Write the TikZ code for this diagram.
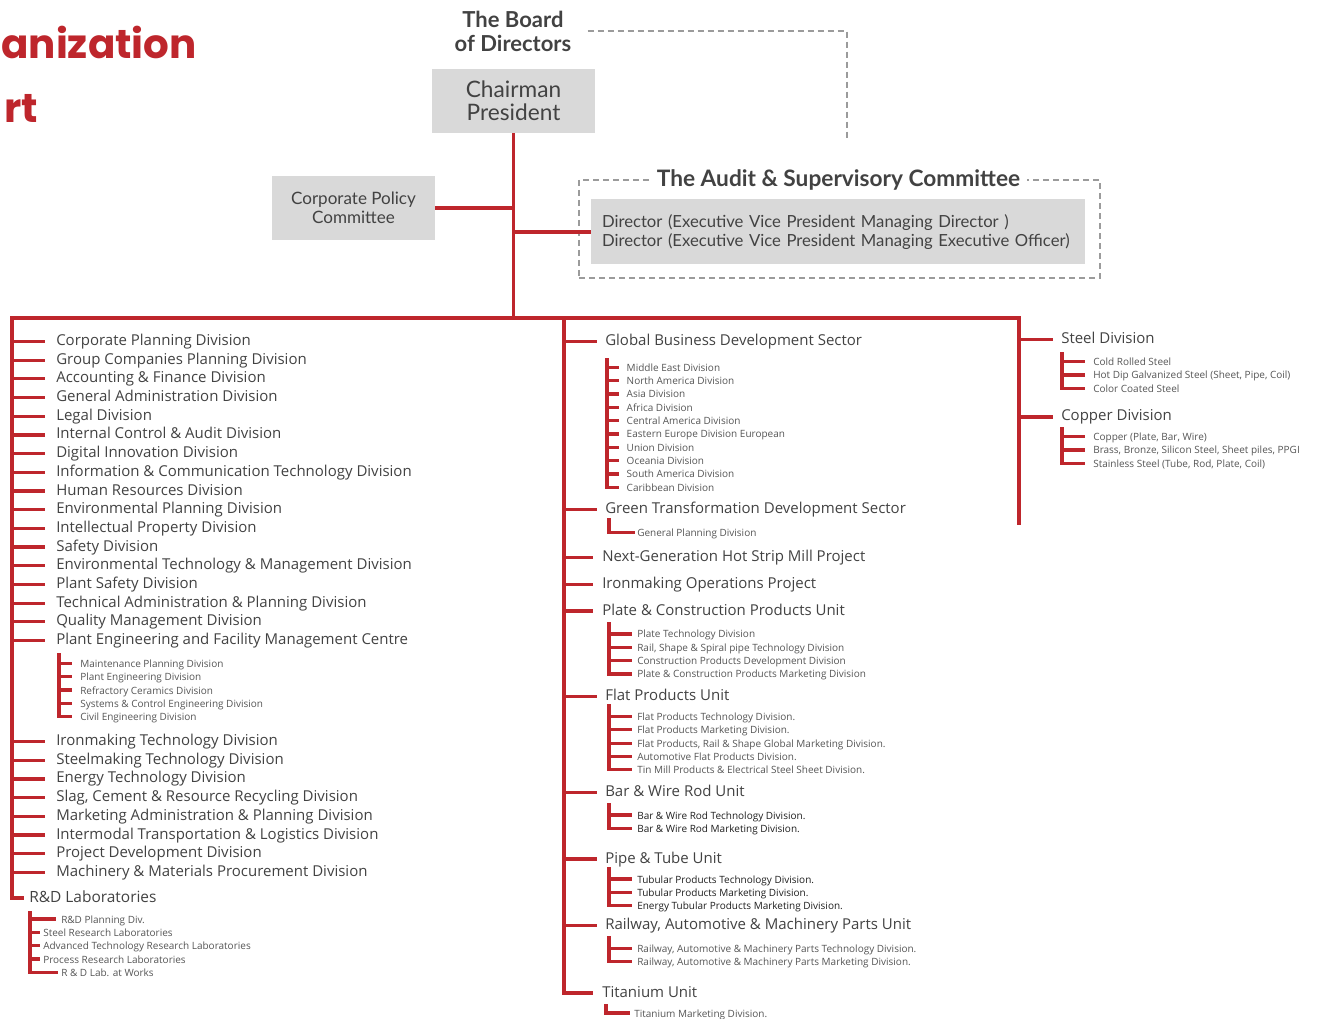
\documentclass[tikz,border=0pt]{standalone}
\usepackage{fontspec}
\setmainfont{Open Sans}
\newfontfamily\titlefont{Poppins}
\newfontfamily\headfont{Lato}
\definecolor{orgred}{RGB}{190,38,44}
\definecolor{boxgray}{RGB}{217,217,217}
\definecolor{txt}{RGB}{66,66,66}
\definecolor{txtl}{RGB}{85,85,85}
\definecolor{txtd}{RGB}{30,30,30}
\definecolor{dashgray}{RGB}{155,155,155}
\tikzset{
 rl/.style={draw=orgred,line width=2.4pt},
 it/.style={anchor=west,inner ysep=0pt,text height=0.6em,text depth=0pt,text=txt,font=\fontsize{11.25}{13}\selectfont},
 sm/.style={anchor=west,inner ysep=0pt,text height=0.6em,text depth=0pt,text=txtl,font=\fontsize{7.5}{9}\selectfont},
 smd/.style={sm,text=txtd},
 gbox/.style={fill=boxgray,inner sep=0pt,align=center,text=txt},
 dashgr/.style={draw=dashgray,line width=1.9pt,dash pattern=on 4.5pt off 3pt},
 ttl/.style={anchor=base east,inner sep=0pt,text=orgred,font=\titlefont\bfseries\fontsize{30.3}{31}\selectfont},
}
\newcommand\orgsub[9]{%
 \coordinate (#1top) at (#3,#4);
 \foreach \lbl [count=\i] in {#9} {%
   \pgfmathsetmacro\yy{#7+(\i-1)*#8}
   \node[#2,inner xsep=#6] (#1\i) at (#5,\yy) {\lbl};
   \draw[rl] (#1\i.west -| #1top) -- (#1\i.west);
   \xdef\orglast{#1\i}%
 }
 \draw[rl,line cap=rect] (#1top) -- (\orglast.west -| #1top);
}
\begin{document}
\begin{tikzpicture}[x=0.75pt,y=-0.75pt]
\useasboundingbox (0,0) rectangle (1321,1019);

% title
\node[ttl] (tA) at (197,59) {anization};
\node[ttl] (tB) at (38,123) {rt};

% top
\node[align=center,inner sep=0pt,text=txt,font=\headfont\bfseries\fontsize{16.5}{18}\selectfont] (bd) at (513,31) {The Board\\of Directors};
\coordinate (dA) at (847,140);
\draw[dashgr,line width=1.5pt] ([xshift=12pt]bd.east) -| (dA);

\node[gbox,minimum width=122.25pt,minimum height=48pt,font=\headfont\fontsize{17}{17.25}\selectfont] (chair) at (513.5,101) {Chairman\\President};
\node[gbox,minimum width=122.25pt,minimum height=48pt,font=\headfont\fontsize{12.8}{14.25}\selectfont] (cpc) at (353.5,208) {Corporate Policy\\Committee};
\node[dashgr,minimum width=390.75pt,minimum height=73.5pt,inner sep=0pt] (aud) at (839.5,229) {};
\node[fill=white,inner xsep=5pt,inner ysep=1pt,text=txt,font=\headfont\bfseries\fontsize{17}{17}\selectfont] (audT) at (838.5,180) {The Audit \& Supervisory Committee};
\node[fill=boxgray,text width=354pt,inner xsep=8.25pt,inner ysep=0pt,minimum height=48.75pt,align=left,text=txt,font=\headfont\fontsize{12.5}{14.25}\selectfont] (dir) at (838,232) {Director (Executive Vice President Managing Director )\\Director (Executive Vice President Managing Executive Officer)};

\coordinate (lt) at (12,318);
\coordinate (mt) at (564,318);
\coordinate (rt) at (1019,318);
\draw[rl] (chair.south) -- (chair.south |- lt);
\draw[rl] (cpc.east) -- (cpc.east -| chair.south);
\draw[rl] (dir.west -| chair.south) -- (dir.west);
\draw[rl,line cap=rect] (lt) -- (rt);

% left column
\orgsub{L}{it}{12}{318}{45}{8.25pt}{341.5}{18.69}{Corporate Planning Division, Group Companies Planning Division, Accounting \& Finance Division, General Administration Division, Legal Division, Internal Control \& Audit Division, Digital Innovation Division, Information \& Communication Technology Division, Human Resources Division, Environmental Planning Division, Intellectual Property Division, Safety Division, Environmental Technology \& Management Division, Plant Safety Division, Technical Administration \& Planning Division, Quality Management Division, Plant Engineering and Facility Management Centre}
\orgsub{PE}{sm}{59}{655}{72}{6pt}{663.5}{13.25}{Maintenance Planning Division, Plant Engineering Division, Refractory Ceramics Division, Systems \& Control Engineering Division, Civil Engineering Division}
\orgsub{M}{it}{12}{700}{45}{8.25pt}{741.5}{18.7}{Ironmaking Technology Division, Steelmaking Technology Division, Energy Technology Division, {Slag, Cement \& Resource Recycling Division}, Marketing Administration \& Planning Division, Intermodal Transportation \& Logistics Division, Project Development Division, Machinery \& Materials Procurement Division}
\node[it,inner xsep=3.75pt,font=\fontsize{11.6}{13}\selectfont] (rd) at (24,898) {R\&D Laboratories};
\draw[rl] (lt) |- (rd.west);

\coordinate (rdt) at (30,913);
\node[sm,inner xsep=3.75pt] (r1) at (56,919) {R\&D Planning Div.};
\node[sm,inner xsep=2.25pt] (r2) at (40,932.3) {Steel Research Laboratories};
\node[sm,inner xsep=2.25pt] (r3) at (40,945.7) {Advanced Technology Research Laboratories};
\node[sm,inner xsep=2.25pt] (r4) at (40,959) {Process Research Laboratories};
\node[sm,inner xsep=3.75pt] (r5) at (56,972.3) {R \& D Lab. at Works};
\foreach \n in {r1,r2,r3,r4} \draw[rl] (\n.west -| rdt) -- (\n.west);
\draw[rl,line cap=rect] (rdt) |- (r5.west);

% middle column
\node[it,inner xsep=6pt] (gb) at (597,341.5) {Global Business Development Sector};
\node[it,inner xsep=6pt] (gt) at (597,509.5) {Green Transformation Development Sector};
\node[it,inner xsep=6.75pt] (ng) at (593,557.5) {Next-Generation Hot Strip Mill Project};
\node[it,inner xsep=6.75pt] (io) at (593,584.5) {Ironmaking Operations Project};
\node[it,inner xsep=6.75pt] (pc) at (593,611) {Plate \& Construction Products Unit};
\node[it,inner xsep=6pt] (fp) at (597,696.5) {Flat Products Unit};
\node[it,inner xsep=6pt] (bw) at (597,792.5) {Bar \& Wire Rod Unit};
\node[it,inner xsep=6pt] (pt) at (597,859) {Pipe \& Tube Unit};
\node[it,inner xsep=6pt] (ra) at (597,925.5) {Railway, Automotive \& Machinery Parts Unit};
\node[it,inner xsep=6.75pt] (ti) at (593,993) {Titanium Unit};
\draw[rl] (mt) |- (ti.west);
\foreach \n in {gb,gt,ng,io,pc,fp,bw,pt,ra} \draw[rl] (\n.west -| mt) -- (\n.west);

\orgsub{G}{sm}{607}{360}{619}{5.6pt}{367.3}{13.33}{Middle East Division, North America Division, Asia Division, Africa Division, Central America Division, Eastern Europe Division European, Union Division, Oceania Division, South America Division, Caribbean Division}
\coordinate (gtt) at (609,520);
\node[sm,inner xsep=3pt] (gt1) at (633,532.5) {General Planning Division};
\draw[rl,line cap=rect] (gtt) |- (gt1.west);
\orgsub{P}{sm}{609}{624}{632}{3.75pt}{634}{13.33}{Plate Technology Division, {Rail, Shape \& Spiral pipe Technology Division}, Construction Products Development Division, Plate \& Construction Products Marketing Division}
\orgsub{F}{sm}{609}{706}{632}{3.75pt}{716.5}{13.3}{Flat Products Technology Division., Flat Products Marketing Division., {Flat Products, Rail \& Shape Global Marketing Division.}, Automotive Flat Products Division., Tin Mill Products \& Electrical Steel Sheet Division.}
\orgsub{B}{smd}{609}{805}{632}{3.75pt}{815}{13.3}{Bar \& Wire Rod Technology Division., Bar \& Wire Rod Marketing Division.}
\orgsub{T}{smd}{609}{869}{632}{3.75pt}{879}{13.3}{Tubular Products Technology Division., Tubular Products Marketing Division., Energy Tubular Products Marketing Division.}
\orgsub{R}{sm}{609}{938}{632}{3.75pt}{948.3}{13.4}{{Railway, Automotive \& Machinery Parts Technology Division.}, {Railway, Automotive \& Machinery Parts Marketing Division.}}
\coordinate (tit) at (606,1006);
\node[sm,inner xsep=4.5pt] (ti1) at (628,1013) {Titanium Marketing Division.};
\draw[rl,line cap=rect] (tit) |- (ti1.west);

% right column
\node[it,inner xsep=6pt] (sd) at (1053,339.5) {Steel Division};
\node[it,inner xsep=6pt] (cd) at (1053,417) {Copper Division};
\coordinate (rb) at (1019,525);
\draw[rl] (rt) -- (rb);
\foreach \n in {sd,cd} \draw[rl] (\n.west -| rt) -- (\n.west);
\orgsub{S}{sm}{1062}{354}{1085}{6pt}{361.7}{13.3}{Cold Rolled Steel, {Hot Dip Galvanized Steel (Sheet, Pipe, Coil)}, Color Coated Steel}
\orgsub{C}{sm}{1062}{429}{1085}{6pt}{436.7}{13.3}{{Copper (Plate, Bar, Wire)}, {Brass, Bronze, Silicon Steel, Sheet piles, PPGI}, {Stainless Steel (Tube, Rod, Plate, Coil)}}
\end{tikzpicture}
\end{document}
